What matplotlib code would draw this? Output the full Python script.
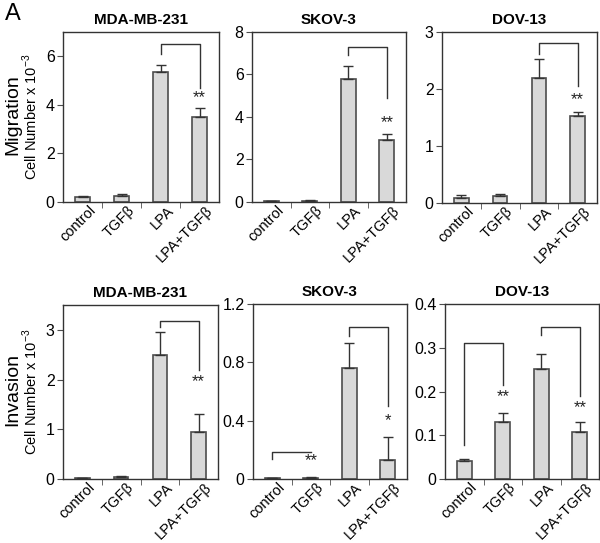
import matplotlib
matplotlib.use("Agg")
import matplotlib.pyplot as plt
import numpy as np

plt.rcParams['font.family'] = ['Liberation Sans', 'DejaVu Sans']
plt.rcParams['mathtext.fontset'] = 'custom'
plt.rcParams['mathtext.rm'] = 'Liberation Sans'

W, H = 600, 543

categories = ['control', 'TGFβ', 'LPA', 'LPA+TGFβ']
cell_lines = ['MDA-MB-231', 'SKOV-3', 'DOV-13']

# migration (cell number x 10^-3)
mig_mda = [0.2, 0.25, 5.35, 3.5]
mig_mda_err = [0.05, 0.08, 0.3, 0.35]
mig_skov = [0.05, 0.06, 5.8, 2.9]
mig_skov_err = [0.02, 0.03, 0.6, 0.3]
mig_dov = [0.08, 0.13, 2.2, 1.52]
mig_dov_err = [0.06, 0.02, 0.32, 0.07]

# invasion (cell number x 10^-3)
inv_mda = [0.02, 0.05, 2.5, 0.95]
inv_mda_err = [0.01, 0.01, 0.45, 0.35]
inv_skov = [0.005, 0.01, 0.76, 0.13]
inv_skov_err = [0.002, 0.003, 0.17, 0.16]
inv_dov = [0.042, 0.13, 0.252, 0.108]
inv_dov_err = [0.003, 0.02, 0.033, 0.022]

ylims = [[7, 8, 3], [3.5, 1.2, 0.4]]
yticks = [[[0, 2, 4, 6], [0, 2, 4, 6, 8], [0, 1, 2, 3]],
          [[0, 1, 2, 3], [0, 0.4, 0.8, 1.2], [0, 0.1, 0.2, 0.3, 0.4]]]
ytick_labels = [[['0', '2', '4', '6'], ['0', '2', '4', '6', '8'], ['0', '1', '2', '3']],
                [['0', '1', '2', '3'], ['0', '0.4', '0.8', '1.2'], ['0', '0.1', '0.2', '0.3', '0.4']]]

# brackets: (left bar, right bar, top, left end, right end, label, label y)
brackets = [
    [[(2, 3, 6.5, 6.1, 4.7, '**', 4.0)],
     [(2, 3, 7.3, 6.9, 4.9, '**', 3.4)],
     [(2, 3, 2.8, 2.62, 2.05, '**', 1.68)]],
    [[(2, 3, 3.18, 3.06, 2.2, '**', 1.8)],
     [(0, 1, 0.185, 0.14, 0.185, '**', 0.075), (2, 3, 1.04, 0.98, 0.5, '*', 0.35)],
     [(0, 1, 0.31, 0.078, 0.215, '**', 0.172), (2, 3, 0.348, 0.33, 0.19, '**', 0.145)]],
]

values = [[mig_mda, mig_skov, mig_dov], [inv_mda, inv_skov, inv_dov]]
errors = [[mig_mda_err, mig_skov_err, mig_dov_err], [inv_mda_err, inv_skov_err, inv_dov_err]]

# axes boxes in pixels: left, right, top, bottom
boxes = [[(63, 219, 32, 202), (252, 406, 32, 202), (442, 597, 32, 203)],
         [(63, 218, 305, 479), (253, 407, 304, 479), (445, 599, 304, 479)]]

fig = plt.figure(figsize=(W / 100, H / 100), dpi=100)
edge = '#4d4d4d'
x = np.arange(len(categories))

for r in range(2):
    for c in range(3):
        l, rr, t, b = boxes[r][c]
        ax = fig.add_axes([l / W, 1 - b / H, (rr - l) / W, (b - t) / H])
        ax.bar(x, values[r][c], width=0.38, color='#d9d9d9', edgecolor=edge, linewidth=1.2,
               yerr=[np.zeros(4), errors[r][c]], error_kw=dict(ecolor='#333333', elinewidth=1, capsize=3.5, capthick=1))
        ax.set_xlim(-0.5, 3.5)
        ax.set_ylim(0, ylims[r][c])
        ax.set_yticks(yticks[r][c])
        ax.set_yticklabels(ytick_labels[r][c], fontsize=11.5)
        ax.set_xticks(x + 0.15)
        ax.set_xticklabels(categories, rotation=45, ha='right', rotation_mode='anchor', fontsize=10.5)
        ax.tick_params(axis='x', which='major', length=0, pad=1)
        ax.set_xticks([0.5, 1.5, 2.5], minor=True)
        ax.tick_params(axis='x', which='minor', length=4, direction='out', color=edge)
        ax.tick_params(axis='y', length=4, direction='out', color=edge, pad=2)
        for s in ax.spines.values():
            s.set_color('#333333')
            s.set_linewidth(1)
        ax.set_title(cell_lines[c], fontsize=11, fontweight='bold', pad=6)
        for (i, j, top, yl, yr, lab, ly) in brackets[r][c]:
            ax.plot([i, i, j, j], [yl, top, top, yr], color='#333333', lw=1)
            ax.text(j, ly, lab, ha='center', va='bottom', fontsize=12, color='#222222')
        if c == 0:
            ax.set_ylabel('Cell Number x 10$^{\\mathregular{-3}}$', fontsize=10.5, labelpad=4)

fig.text(5 / W, 1 - 14 / H, 'A', fontsize=17, va='center', ha='left')
fig.text(13 / W, 1 - 115 / H, 'Migration', fontsize=14, rotation=90, va='center', ha='center')
fig.text(13 / W, 1 - 390 / H, 'Invasion', fontsize=14, rotation=90, va='center', ha='center')

fig.savefig('out.png', dpi=100)
